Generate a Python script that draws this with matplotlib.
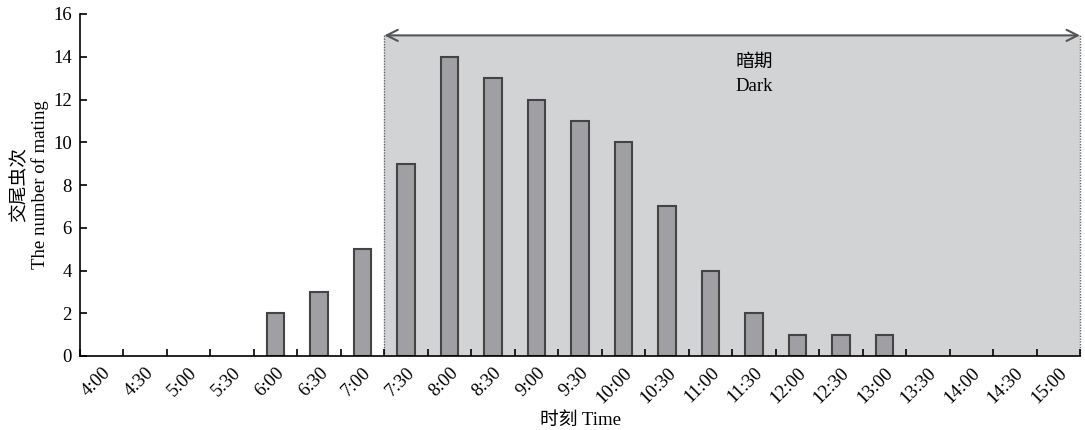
import matplotlib
matplotlib.use("Agg")
import matplotlib.pyplot as plt
import numpy as np

times = ["4:00", "4:30", "5:00", "5:30", "6:00", "6:30", "7:00", "7:30", "8:00", "8:30",
         "9:00", "9:30", "10:00", "10:30", "11:00", "11:30", "12:00", "12:30", "13:00",
         "13:30", "14:00", "14:30", "15:00"]
counts = [0, 0, 0, 0, 2, 3, 5, 9, 14, 13, 12, 11, 10, 7, 4, 2, 1, 1, 1, 0, 0, 0, 0]
yticks = [0, 2, 4, 6, 8, 10, 12, 14, 16]
dark_start = 7      # boundary index where dark period starts
dark_top = 15

plt.rcParams['font.family'] = ['Liberation Serif', 'Noto Sans CJK SC']

FS = 13.5
fig = plt.figure(figsize=(10.85, 4.30), dpi=100)
ax = fig.add_axes([80/1085, 74/430, 1000/1085, 342/430])

n = len(times)
x = np.arange(n) + 0.5
c = np.array(counts)
nz = c > 0

# dark shading
ax.axvspan(dark_start, n, ymin=0, ymax=dark_top/16, facecolor='#d2d3d5', edgecolor='none', zorder=0)
ax.plot([dark_start, dark_start], [0, dark_top], color='#666666', lw=1, ls=(0, (1, 1)), zorder=1)
ax.plot([n, n], [0, dark_top], color='#666666', lw=1, ls=(0, (1, 1)), zorder=1, clip_on=False)
ax.annotate('', xy=(dark_start, dark_top), xytext=(n, dark_top),
            arrowprops=dict(arrowstyle='<->', color='#555555', lw=1.5, mutation_scale=20,
                            shrinkA=0, shrinkB=0), zorder=3, annotation_clip=False)
ax.text(15.5, 13.8, '暗期', ha='center', va='center', fontsize=FS,
        family=['Noto Sans CJK SC', 'Liberation Serif'])
ax.text(15.5, 12.6, 'Dark', ha='center', va='center', fontsize=FS)

ax.bar(x[nz], c[nz], width=0.4, color='#a0a0a4', edgecolor='#444444', linewidth=1.5, zorder=2)

ax.set_xlim(0, n)
ax.set_ylim(0, 16)
ax.set_yticks(yticks)
ax.set_xticks(np.arange(0, n + 1))
ax.set_xticklabels([])
ax.set_xticks(x, minor=True)
ax.set_xticklabels(times, minor=True, rotation=45, ha='right', rotation_mode='anchor')
ax.tick_params(axis='x', which='major', direction='in', length=5, width=1.2)
ax.tick_params(axis='x', which='minor', length=0, pad=6, labelsize=FS)
ax.tick_params(axis='y', direction='in', length=5, width=1.2, labelsize=FS, pad=6)

for s in ['top', 'right']:
    ax.spines[s].set_visible(False)
for s in ['left', 'bottom']:
    ax.spines[s].set_linewidth(1.2)

ax.set_ylabel('交尾虫次\nThe number of mating', fontsize=FS, labelpad=3,
              family=['Liberation Serif', 'Noto Sans CJK SC'])
ax.set_xlabel('时刻 Time', fontsize=FS, labelpad=4,
              family=['Liberation Serif', 'Noto Sans CJK SC'])

fig.savefig('out.png', dpi=100)
